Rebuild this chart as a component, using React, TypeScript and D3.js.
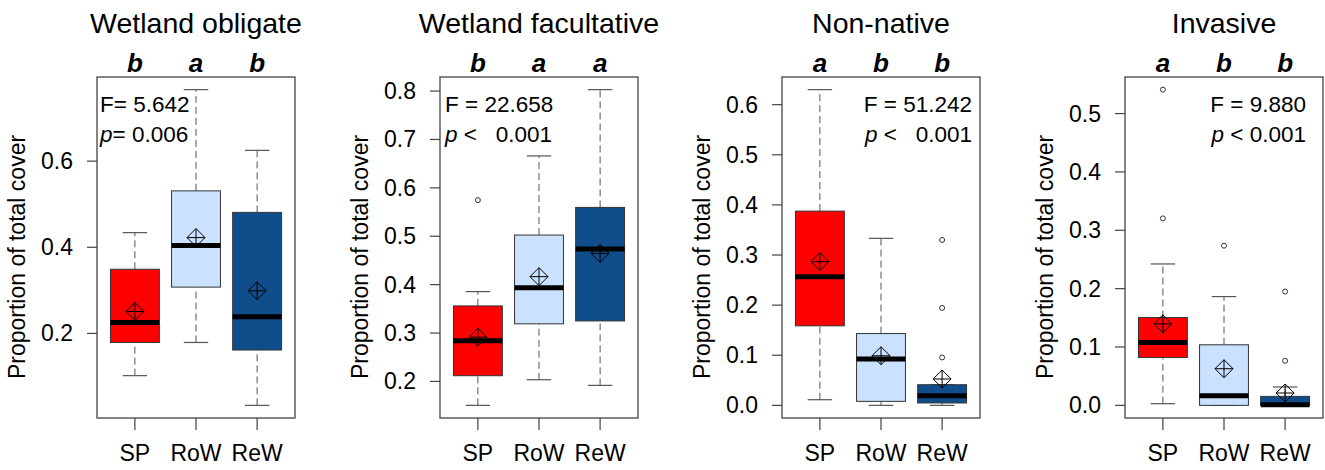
import React from "react";
import * as d3 from "d3";

// five-number summaries: [lowWhisker, q1, median, q3, highWhisker]
const groups = ["SP", "RoW", "ReW"];
const fills = ["#ff0000", "#cae1ff", "#104e8b"];

const titles = ["Wetland obligate", "Wetland facultative", "Non-native", "Invasive"];
const letters = [
  ["b", "a", "b"],
  ["b", "a", "a"],
  ["a", "b", "b"],
  ["a", "b", "b"],
];
const fLabels = ["F= 5.642", "F = 22.658", "F = 51.242", "F = 9.880"];
const pLabels = ["= 0.006", " <   0.001", " <   0.001", " < 0.001"];

const obligateStats = [
  [0.102, 0.179, 0.2255, 0.349, 0.434],
  [0.179, 0.3075, 0.404, 0.531, 0.766],
  [0.033, 0.1615, 0.239, 0.481, 0.625],
];
const obligateMeans = [0.251, 0.4225, 0.299];
const obligateOut = [[], [], []];

const facultativeStats = [
  [0.1505, 0.2118, 0.284, 0.356, 0.3856],
  [0.2035, 0.319, 0.3938, 0.5025, 0.666],
  [0.1918, 0.325, 0.4736, 0.5596, 0.803],
];
const facultativeMeans = [0.2915, 0.4165, 0.4647];
const facultativeOut = [[0.5747], [], []];

const nonNativeStats = [
  [0.0113, 0.1587, 0.2568, 0.3876, 0.63],
  [0.0, 0.008, 0.0924, 0.1433, 0.3333],
  [0.0, 0.0048, 0.0193, 0.0412, 0.0412],
];
const nonNativeMeans = [0.2867, 0.099, 0.0526];
const nonNativeOut = [[], [], [0.33, 0.1945, 0.0956]];

const invasiveStats = [
  [0.0029, 0.0821, 0.1077, 0.1505, 0.2423],
  [0.0, 0.0, 0.0166, 0.1038, 0.1864],
  [0.0, 0.0, 0.0012, 0.0154, 0.0315],
];
const invasiveMeans = [0.1397, 0.0628, 0.0212];
const invasiveOut = [[0.541, 0.3204], [0.2736], [0.195, 0.0764]];

const yTicks = [
  [0.2, 0.4, 0.6],
  [0.2, 0.3, 0.4, 0.5, 0.6, 0.7, 0.8],
  [0.0, 0.1, 0.2, 0.3, 0.4, 0.5, 0.6],
  [0.0, 0.1, 0.2, 0.3, 0.4, 0.5],
];

const panels = [
  { stats: obligateStats, means: obligateMeans, out: obligateOut },
  { stats: facultativeStats, means: facultativeMeans, out: facultativeOut },
  { stats: nonNativeStats, means: nonNativeMeans, out: nonNativeOut },
  { stats: invasiveStats, means: invasiveMeans, out: invasiveOut },
];

const W = 1325;
const H = 470;
const top = 77;
const bottom = 418;
const boxW = 198;
const lefts = [97, 440, 782, 1125];
// where the F / p note sits: left aligned (start) or right aligned (end)
const noteAnchor = [
  { anchor: "start", dx: 3 },
  { anchor: "start", dx: 5 },
  { anchor: "end", dx: -8 },
  { anchor: "end", dx: -17 },
];
const font = "'Liberation Sans', Arial, Helvetica, sans-serif";

const Panel = ({ i }: { i: number }) => {
  const p = panels[i];
  const left = lefts[i];
  const right = left + boxW;

  const all = p.stats.flat().concat(p.out.flat());
  const [lo, hi] = d3.extent(all) as [number, number];
  const pad = (hi - lo) * 0.04;
  const y = d3.scaleLinear().domain([lo - pad, hi + pad]).range([bottom, top]);
  const x = d3.scaleLinear().domain([0.38, 3.62]).range([left, right]);
  const half = x(1.4) - x(1);
  const cap = x(1.2) - x(1);
  const fmt = d3.format(".1f");
  const cx = (left + right) / 2;
  const note = noteAnchor[i];
  const noteX = note.anchor === "start" ? left + note.dx : right + note.dx;

  return (
    <g fontFamily={font}>
      <text x={cx} y={33} textAnchor="middle" fontSize={28.5} fill="#000">
        {titles[i]}
      </text>
      {groups.map((g, j) => (
        <text
          key={g}
          x={x(j + 1)}
          y={72}
          textAnchor="middle"
          fontSize={26}
          fontWeight="bold"
          fontStyle="italic"
        >
          {letters[i][j]}
        </text>
      ))}

      {/* y axis */}
      {yTicks[i].map((t) => (
        <g key={t}>
          <line x1={left - 10} x2={left} y1={y(t)} y2={y(t)} stroke="#444" strokeWidth={1.2} />
          <text x={left - 24} y={y(t) + 8} textAnchor="end" fontSize={23}>
            {fmt(t)}
          </text>
        </g>
      ))}
      <text
        transform={`translate(${left - 72},${257}) rotate(-90)`}
        textAnchor="middle"
        fontSize={23}
      >
        Proportion of total cover
      </text>

      {/* x axis */}
      {groups.map((g, j) => (
        <g key={g}>
          <line x1={x(j + 1)} x2={x(j + 1)} y1={bottom} y2={bottom + 12} stroke="#444" strokeWidth={1.2} />
          <text x={x(j + 1)} y={461} textAnchor="middle" fontSize={23}>
            {g}
          </text>
        </g>
      ))}

      {/* boxes */}
      {p.stats.map((s, j) => {
        const bx = x(j + 1);
        const m = p.means[j];
        const my = y(m);
        const r = 9;
        return (
          <g key={j}>
            <line x1={bx} x2={bx} y1={y(s[0])} y2={y(s[1])} stroke="#555" strokeDasharray="7,4" />
            <line x1={bx} x2={bx} y1={y(s[3])} y2={y(s[4])} stroke="#555" strokeDasharray="7,4" />
            <line x1={bx - cap} x2={bx + cap} y1={y(s[0])} y2={y(s[0])} stroke="#555" strokeWidth={1.2} />
            <line x1={bx - cap} x2={bx + cap} y1={y(s[4])} y2={y(s[4])} stroke="#555" strokeWidth={1.2} />
            <rect
              x={bx - half}
              y={y(s[3])}
              width={half * 2}
              height={y(s[1]) - y(s[3])}
              fill={fills[j]}
              stroke="#333"
              strokeWidth={1}
            />
            <line x1={bx - half} x2={bx + half} y1={y(s[2])} y2={y(s[2])} stroke="#000" strokeWidth={5} />
            <path
              d={`M${bx},${my - r}L${bx + r},${my}L${bx},${my + r}L${bx - r},${my}Z M${bx - r},${my}H${bx + r} M${bx},${my - r}V${my + r}`}
              fill="none"
              stroke="#000"
              strokeWidth={1}
            />
            {p.out[j].map((o, k) => (
              <circle key={k} cx={bx} cy={y(o)} r={2.5} fill="none" stroke="#333" strokeWidth={1} />
            ))}
          </g>
        );
      })}

      <rect x={left} y={top} width={boxW} height={bottom - top} fill="none" stroke="#444" strokeWidth={1.3} />

      <text x={noteX} y={112} textAnchor={note.anchor} fontSize={22.5} style={{ whiteSpace: "pre" }}>
        {fLabels[i]}
      </text>
      <text x={noteX} y={142} textAnchor={note.anchor} fontSize={22.5} style={{ whiteSpace: "pre" }}>
        <tspan fontStyle="italic">p</tspan>
        {pLabels[i]}
      </text>
    </g>
  );
};

const App = () => (
  <svg width={W} height={H} style={{ position: "absolute", left: 0, top: 0, background: "#fff" }}>
    <rect width={W} height={H} fill="#fff" />
    {panels.map((_, i) => (
      <Panel key={i} i={i} />
    ))}
  </svg>
);

export default App;
